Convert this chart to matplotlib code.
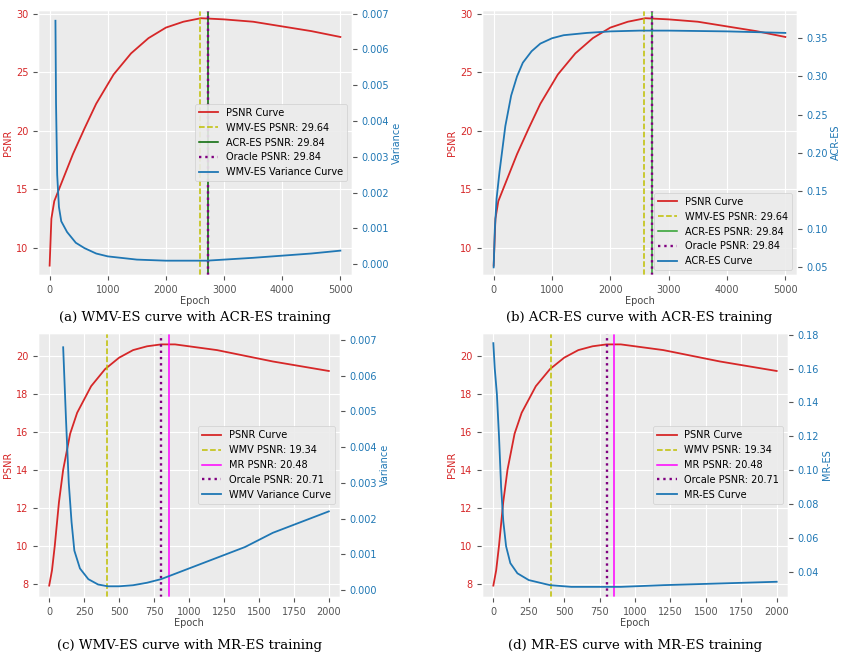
import matplotlib
matplotlib.use("Agg")
import matplotlib.pyplot as plt

plt.style.use("ggplot")

RED = "tab:red"
BLUE = "tab:blue"

# panel a/b: ACR-ES training (5000 epochs)
ep_a = [0, 30, 80, 200, 400, 600, 800, 1100, 1400, 1700, 2000, 2300, 2600, 3000, 3500, 4000, 4500, 5000]
psnr_a = [8.5, 12.5, 14.0, 15.5, 18.0, 20.2, 22.3, 24.8, 26.6, 27.9, 28.8, 29.3, 29.6, 29.5, 29.3, 28.9, 28.5, 28.0]
ep_var_a = [100, 110, 130, 160, 200, 300, 450, 600, 800, 1000, 1500, 2000, 2700, 3500, 4500, 5000]
var_a = [0.0068, 0.0045, 0.0025, 0.0016, 0.0012, 0.0009, 0.0006, 0.00045, 0.0003, 0.00022, 0.00013, 0.0001, 0.0001, 0.00018, 0.0003, 0.00038]
ep_acr = [0, 20, 50, 100, 200, 300, 400, 500, 650, 800, 1000, 1200, 1600, 2000, 2500, 3000, 4000, 5000]
acr = [0.05, 0.10, 0.14, 0.175, 0.235, 0.275, 0.30, 0.318, 0.333, 0.343, 0.35, 0.354, 0.357, 0.359, 0.36, 0.36, 0.359, 0.357]

# panel c/d: MR-ES training (2000 epochs)
ep_c = [0, 20, 40, 70, 100, 150, 200, 300, 400, 500, 600, 700, 800, 900, 1000, 1200, 1400, 1600, 1800, 2000]
psnr_c = [7.9, 8.7, 10.0, 12.3, 14.0, 15.9, 17.0, 18.4, 19.3, 19.9, 20.3, 20.5, 20.6, 20.6, 20.5, 20.3, 20.0, 19.7, 19.45, 19.2]
ep_var_c = [100, 120, 140, 160, 180, 220, 280, 350, 420, 500, 600, 700, 800, 1000, 1200, 1400, 1600, 1800, 2000]
var_c = [0.0068, 0.0048, 0.003, 0.0019, 0.0011, 0.0006, 0.0003, 0.00015, 0.0001, 0.0001, 0.00013, 0.0002, 0.0003, 0.0006, 0.0009, 0.0012, 0.0016, 0.0019, 0.0022]
ep_mr = [0, 10, 25, 40, 55, 70, 90, 120, 170, 250, 400, 550, 700, 900, 1200, 1600, 2000]
mr = [0.175, 0.16, 0.145, 0.12, 0.09, 0.07, 0.055, 0.045, 0.039, 0.035, 0.032, 0.031, 0.031, 0.031, 0.032, 0.033, 0.034]

PANELS = [
    dict(ep=ep_a, psnr=psnr_a, ep2=ep_var_a, y2=var_a, xmax=5000, ylim=(7.7, 30.3),
         y2lim=(-0.0003, 0.0071), y2label="Variance", xticks=range(0, 5001, 1000),
         vlines=[(2580, "y", "--", "WMV-ES PSNR: 29.64"), (2720, "darkgreen", "-", "ACR-ES PSNR: 29.84"),
                 (2720, "purple", ":", "Oracle PSNR: 29.84")],
         curve="WMV-ES Variance Curve", loc="center right",
         caption="(a) WMV-ES curve with ACR-ES training"),
    dict(ep=ep_a, psnr=psnr_a, ep2=ep_acr, y2=acr, xmax=5000, ylim=(7.7, 30.3),
         y2lim=(0.04, 0.387), y2label="ACR-ES", xticks=range(0, 5001, 1000),
         vlines=[(2580, "y", "--", "WMV-ES PSNR: 29.64"), (2720, "tab:green", "-", "ACR-ES PSNR: 29.84"),
                 (2720, "purple", ":", "Oracle PSNR: 29.84")],
         curve="ACR-ES Curve", loc="lower right",
         caption="(b) ACR-ES curve with ACR-ES training"),
    dict(ep=ep_c, psnr=psnr_c, ep2=ep_var_c, y2=var_c, xmax=2000, ylim=(7.3, 21.2),
         y2lim=(-0.0002, 0.0072), y2label="Variance", xticks=range(0, 2001, 250),
         vlines=[(410, "y", "--", "WMV PSNR: 19.34"), (855, "magenta", "-", "MR PSNR: 20.48"),
                 (800, "purple", ":", "Orcale PSNR: 20.71")],
         curve="WMV Variance Curve", loc="center right",
         caption="(c) WMV-ES curve with MR-ES training"),
    dict(ep=ep_c, psnr=psnr_c, ep2=ep_mr, y2=mr, xmax=2000, ylim=(7.3, 21.2),
         y2lim=(0.025, 0.181), y2label="MR-ES", xticks=range(0, 2001, 250),
         vlines=[(410, "y", "--", "WMV PSNR: 19.34"), (855, "magenta", "-", "MR PSNR: 20.48"),
                 (800, "purple", ":", "Orcale PSNR: 20.71")],
         curve="MR-ES Curve", loc="center right",
         caption="(d) MR-ES curve with MR-ES training"),
]

fig = plt.figure(figsize=(8.46, 6.6), dpi=100)
fig.patch.set_facecolor("white")
boxes = [(38, 10, 352, 275), (482, 10, 797, 275), (38, 333, 340, 597), (482, 333, 788, 597)]
cap_y = [318, 318, 645, 645]
W, H = 846, 660

for p, (l, t, r, b), cy in zip(PANELS, boxes, cap_y):
    ax = fig.add_axes([l / W, 1 - b / H, (r - l) / W, (b - t) / H])
    ax.set_facecolor("#ebebeb")
    ax.grid(color="white", lw=0.8)
    ax.plot(p["ep"], p["psnr"], color=RED, lw=1.3, label="PSNR Curve")
    for x, c, ls, lab in p["vlines"]:
        ax.axvline(x, color=c, ls=ls, lw=1.1 if ls != ":" else 1.7, label=lab)
    ax.set_ylim(*p["ylim"])
    ax.set_xlim(-0.04 * p["xmax"], 1.04 * p["xmax"])
    ax.set_xticks(list(p["xticks"]))
    ax.set_xlabel("Epoch", fontsize=7, color="#444444", labelpad=1)
    ax.set_ylabel("PSNR", fontsize=7, color=RED, labelpad=2)
    ax.tick_params(axis="y", labelcolor=RED, labelsize=7)
    ax.tick_params(axis="x", labelsize=7)
    ax2 = ax.twinx()
    ax2.plot(p["ep2"], p["y2"], color=BLUE, lw=1.3, label=p["curve"])
    ax2.set_ylim(*p["y2lim"])
    ax2.grid(False)
    ax2.set_ylabel(p["y2label"], fontsize=7, color=BLUE, labelpad=2)
    ax2.tick_params(axis="y", labelcolor=BLUE, labelsize=7)
    h1, l1 = ax.get_legend_handles_labels()
    h2, l2 = ax2.get_legend_handles_labels()
    ax2.legend(h1 + h2, l1 + l2, loc=p["loc"], fontsize=7, facecolor="#ebebeb", framealpha=0.9)
    fig.text((l + r) / 2 / W, 1 - cy / H, p["caption"], ha="center", va="center",
             fontsize=9.5, family="DejaVu Serif")

fig.savefig("out.png", dpi=100, facecolor="white")
